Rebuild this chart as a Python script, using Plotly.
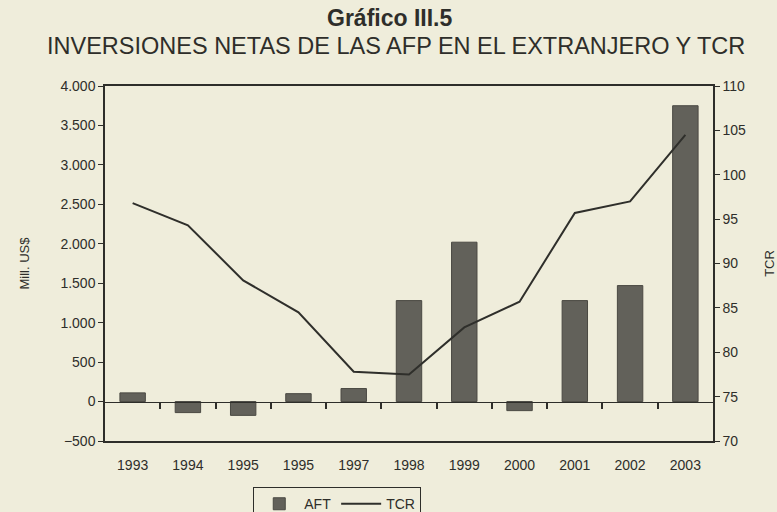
import plotly.graph_objects as go

# Years on the horizontal axis (as printed, including the repeated 1995)
years = ["1993", "1994", "1995", "1995", "1997", "1998", "1999", "2000", "2001", "2002", "2003"]
# Net foreign investment of pension funds (Mill. US$)
aft = [110, -140, -175, 100, 165, 1280, 2020, -115, 1280, 1470, 3750]
# Real exchange rate index
tcr = [96.8, 94.3, 88.1, 84.5, 77.8, 77.5, 82.8, 85.7, 95.7, 97.0, 104.5]

xpos = list(range(len(years)))

BG = "#efeddb"
INK = "#2e2e2a"
FONT = "Liberation Sans"

fig = go.Figure()
fig.add_trace(go.Bar(
    x=xpos, y=aft, name="AFT",
    marker=dict(color="#62615a", line=dict(color="#4a4943", width=1)),
    width=0.46, yaxis="y",
))
fig.add_trace(go.Scatter(
    x=xpos, y=tcr, name="TCR", mode="lines",
    line=dict(color="#2f2f2b", width=2), yaxis="y2",
))
# Helper trace so the zero-line axis (x2) gets drawn; it has no visible marks
fig.add_trace(go.Scatter(
    x=xpos, y=[None] * len(xpos), mode="lines", xaxis="x2", yaxis="y",
    showlegend=False, hoverinfo="skip",
))

fig.update_layout(
    width=777, height=512,
    paper_bgcolor=BG, plot_bgcolor=BG,
    margin=dict(l=105, r=64, t=86, b=71, autoexpand=False),
    separators=",.",
    font=dict(family=FONT, size=14, color=INK),
    showlegend=True,
    legend=dict(
        orientation="h", x=0.382, xanchor="center", y=-0.13, yanchor="top",
        bgcolor=BG, bordercolor=INK, borderwidth=1,
        font=dict(size=14, color=INK), itemwidth=40,
    ),
    xaxis=dict(
        range=[-0.5, len(years) - 0.5],
        tickmode="array", tickvals=xpos, ticktext=years,
        ticks="", showline=True, linecolor=INK, linewidth=1.5, mirror=True,
        showgrid=False, zeroline=False, tickfont=dict(size=14),
        ticklabelstandoff=10,
    ),
    xaxis2=dict(
        overlaying="x", anchor="free", position=500 / 4500,
        range=[-0.5, len(years) - 0.5],
        tickmode="array", tickvals=[i + 0.5 for i in xpos[:-1]],
        showticklabels=False, ticks="outside", ticklen=6, tickwidth=1.5, tickcolor=INK,
        showline=True, linecolor=INK, linewidth=1.2, showgrid=False, zeroline=False,
    ),
    yaxis=dict(
        range=[-500, 4000], dtick=500, tickformat=",d",
        showline=True, linecolor=INK, linewidth=1.5,
        ticks="outside", ticklen=5, tickcolor=INK,
        showgrid=False, zeroline=False, tickfont=dict(size=14),
        title=dict(text="Mill. US$", font=dict(size=13), standoff=28),
    ),
    yaxis2=dict(
        range=[70, 110], dtick=5, overlaying="y", side="right",
        showline=True, linecolor=INK, linewidth=1.5,
        ticks="outside", ticklen=5, tickcolor=INK,
        showgrid=False, zeroline=False, tickfont=dict(size=14),
        title=dict(text="TCR", font=dict(size=13), standoff=22),
    ),
    annotations=[
        dict(text="<b>Gráfico III.5</b>", xref="paper", yref="paper",
             x=(389 - 105) / 608, y=1 + (86 - 18) / 355, xanchor="center", yanchor="middle",
             showarrow=False, font=dict(size=23, color=INK)),
        dict(text="INVERSIONES NETAS DE LAS AFP EN EL EXTRANJERO Y TCR",
             xref="paper", yref="paper",
             x=(396 - 105) / 608, y=1 + (86 - 46) / 355, xanchor="center", yanchor="middle",
             showarrow=False, font=dict(size=23.5, color=INK)),
    ],
)

fig.write_html("out.html")
